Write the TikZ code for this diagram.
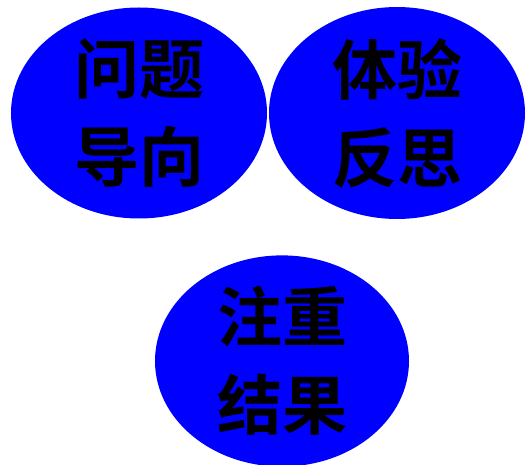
\documentclass[tikz,border=0pt]{standalone}
\usepackage{fontspec}
\newfontfamily\cjk{Noto Sans CJK SC Bold}
\usetikzlibrary{shapes.geometric}
\tikzset{blob/.style={ellipse, fill=blue, inner sep=0pt, minimum width=256pt, minimum height=211pt,
	align=center, font=\cjk\fontsize{65}{88}\selectfont, text=black}}
\begin{document}
\begin{tikzpicture}[x=1pt, y=-1pt]
	\useasboundingbox (0,0) rectangle (525,465);
	\node[blob] (wtdx) at (139,113) {问题\\导向};
	\node[blob] (tyfs) at (397,113) {体验\\反思};
	\node[blob, minimum width=254pt, minimum height=208pt] (zzjg) at (282,361) {注重\\结果};
\end{tikzpicture}
\end{document}
